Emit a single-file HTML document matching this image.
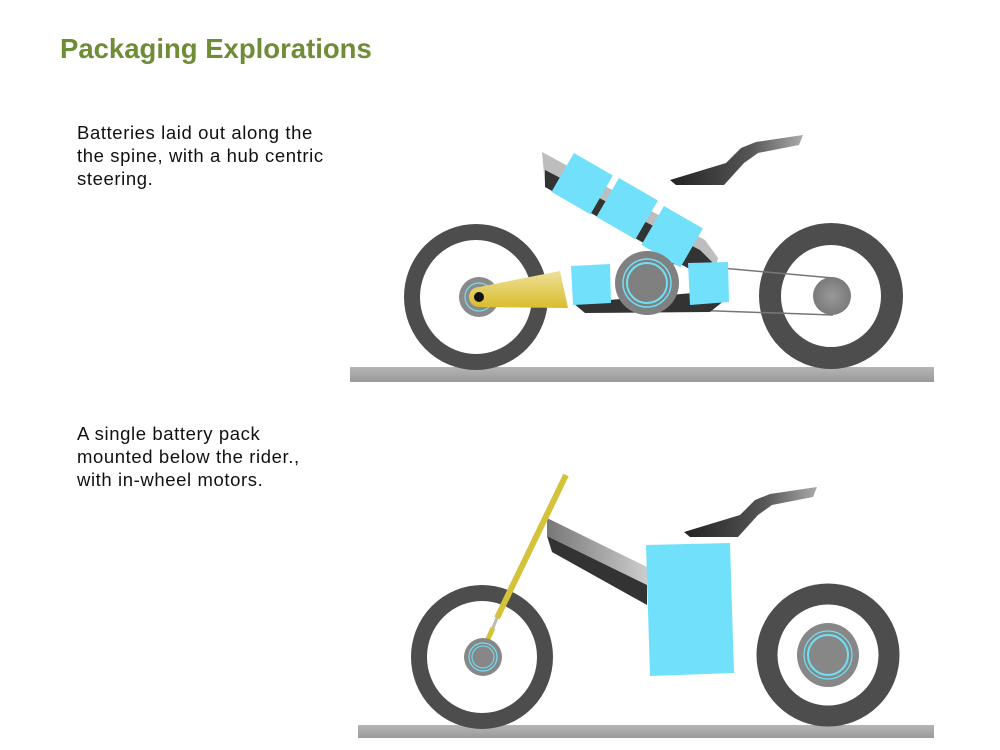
<!DOCTYPE html>
<html><head><meta charset="utf-8"><style>
html,body{margin:0;padding:0;background:#fff;width:1000px;height:750px;overflow:hidden}
.t{position:absolute;font-family:"Liberation Sans",sans-serif;color:#111;font-size:18.5px;line-height:23px;letter-spacing:0.6px;white-space:nowrap}
h1{position:absolute;left:60px;top:33px;margin:0;font-family:"Liberation Sans",sans-serif;font-weight:bold;font-size:27.5px;color:#6f8c36;letter-spacing:0px}
svg{position:absolute;left:0;top:0}
</style></head><body>
<h1>Packaging Explorations</h1>
<div class="t" style="left:77px;top:121px">Batteries laid out along the<br>the spine, with a hub centric<br>steering.</div>
<div class="t" style="left:77px;top:422px">A single battery pack<br>mounted below the rider.,<br>with in-wheel motors.</div>
<svg width="1000" height="750" viewBox="0 0 1000 750">
<defs>
<linearGradient id="gnd" x1="0" y1="0" x2="0" y2="1"><stop offset="0" stop-color="#b5b5b5"/><stop offset="1" stop-color="#9a9a9a"/></linearGradient>
<linearGradient id="seat" x1="0" y1="0" x2="1" y2="0"><stop offset="0" stop-color="#222"/><stop offset="0.6" stop-color="#555"/><stop offset="1" stop-color="#aaa"/></linearGradient>
<linearGradient id="yel" x1="0" y1="0" x2="0" y2="1"><stop offset="0" stop-color="#efe09a"/><stop offset="1" stop-color="#d9bd2c"/></linearGradient>
<linearGradient id="fr" x1="0" y1="0" x2="1" y2="0"><stop offset="0" stop-color="#777"/><stop offset="1" stop-color="#ccc"/></linearGradient>
<radialGradient id="sp"><stop offset="0" stop-color="#999"/><stop offset="1" stop-color="#7a7a7a"/></radialGradient>
<path id="seatp" d="M684,532 L740,515 L755,500 L770,494 L817,487 L813,497 L772,505 L758,515 L738,537 L690,537 Z"/>
</defs>
<rect x="350" y="367" width="584" height="15" fill="url(#gnd)"/>
<ellipse cx="476" cy="297" rx="64" ry="65" fill="none" stroke="#4d4d4d" stroke-width="16"/>
<ellipse cx="831" cy="296" rx="61" ry="62" fill="none" stroke="#4d4d4d" stroke-width="22"/>
<circle cx="832" cy="296" r="19" fill="url(#sp)"/>
<line x1="655" y1="262" x2="833" y2="278" stroke="#777" stroke-width="1.5"/>
<line x1="660" y1="309" x2="833" y2="315" stroke="#777" stroke-width="1.5"/>
<use href="#seatp" fill="url(#seat)" transform="translate(-14,-352)"/>
<polygon points="542,152 705,240 718,258 715,270 700,262 545,185" fill="#bdbdbd"/>
<polygon points="545,170 700,250 712,262 700,275 545,187" fill="#333"/>
<polygon points="573,303 705,292 725,300 710,312 585,313" fill="#333"/>
<g fill="#71e1fb">
<rect x="-22" y="-22" width="45" height="45" transform="translate(582,183) rotate(30)"/>
<rect x="-22" y="-22" width="45" height="45" transform="translate(627,208) rotate(30)"/>
<rect x="-22" y="-22" width="45" height="45" transform="translate(672,236) rotate(30)"/>
<polygon points="571,266 610,264 611,303 573,305"/>
<polygon points="688,263 728,262 729,302 690,305"/>
</g>
<circle cx="647" cy="283" r="32" fill="#808080"/>
<circle cx="647" cy="283" r="24" fill="none" stroke="#6fe0f5" stroke-width="1.5"/>
<circle cx="647" cy="283" r="20" fill="none" stroke="#6fe0f5" stroke-width="2"/>
<circle cx="479" cy="297" r="20" fill="#8a8a8a"/>
<circle cx="479" cy="297" r="14" fill="none" stroke="#6fe0f5" stroke-width="1.2"/>
<path d="M479,287 L560,271 L568,308 L479,307 A10,10 0 0 1 479,287 Z" fill="url(#yel)"/>
<circle cx="479" cy="297" r="5" fill="#111"/>
<rect x="358" y="725" width="576" height="13" fill="url(#gnd)"/>
<ellipse cx="482" cy="657" rx="63" ry="64" fill="none" stroke="#4d4d4d" stroke-width="16"/>
<ellipse cx="828" cy="655" rx="61" ry="61" fill="none" stroke="#4d4d4d" stroke-width="21"/>
<ellipse cx="828" cy="655" rx="31" ry="32" fill="#878787"/>
<circle cx="828" cy="655" r="24" fill="none" stroke="#6fe0f5" stroke-width="1.2"/>
<circle cx="828" cy="655" r="20" fill="none" stroke="#6fe0f5" stroke-width="2"/>
<polygon points="547,518 647,567 647,585 547,536" fill="url(#fr)"/>
<polygon points="547,536 647,585 647,605 552,552" fill="#333"/>
<use href="#seatp" fill="url(#seat)"/>
<polygon points="646,545 730,543 734,673 650,676" fill="#71e1fb"/>
<line x1="566" y1="475" x2="497" y2="618" stroke="#d4c23a" stroke-width="6"/>
<line x1="497" y1="618" x2="492" y2="630" stroke="#bbb" stroke-width="3"/>
<line x1="493" y1="628" x2="487" y2="641" stroke="#d4c23a" stroke-width="5"/>
<circle cx="483" cy="657" r="19" fill="#878787"/>
<circle cx="483" cy="657" r="14" fill="none" stroke="#6fe0f5" stroke-width="1.2"/>
<circle cx="483" cy="657" r="11" fill="none" stroke="#6fe0f5" stroke-width="1"/>
</svg>
</body></html>
